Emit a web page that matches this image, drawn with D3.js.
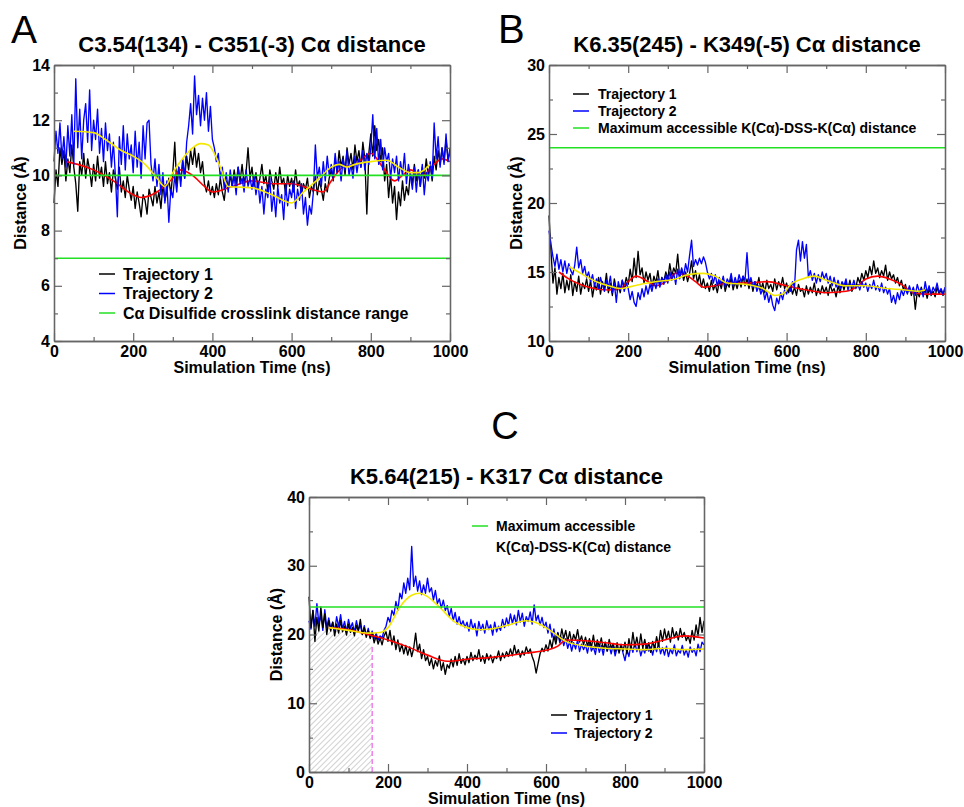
<!DOCTYPE html>
<html><head><meta charset="utf-8">
<script src="https://cdn.jsdelivr.net/npm/d3@7"></script>
<style>
html,body{margin:0;padding:0;background:#fff;}
svg{display:block;font-family:"Liberation Sans",Arial,Helvetica,sans-serif;}
</style></head>
<body>
<svg id="chart" width="964" height="807"></svg>
<script>
// ---------- DATA ----------
const timeStep = 5; // ns between samples of the raw traces
const timeEnd = 1000;

// Panel A: C3.54(134) - C351(-3)
const aTraj1 = [
9.0,10.2,9.6,11.0,10.4,10.9,9.8,10.6,10.1,11.1,10.3,9.7,8.7,10.5,10.0,10.8,9.9,10.6,10.2,9.6,
10.4,9.8,10.7,9.9,10.3,9.6,10.5,9.7,10.1,9.4,10.2,9.9,9.5,10.3,9.4,9.8,9.2,10.0,9.5,9.1,
9.6,8.8,9.4,9.0,8.5,9.3,9.1,8.6,9.5,9.2,8.9,9.6,9.0,9.4,8.8,9.7,9.1,9.4,9.9,9.3,
10.1,11.2,9.6,10.3,9.8,10.5,9.9,10.7,10.2,10.9,10.4,11.0,10.3,10.8,10.1,10.5,9.7,9.4,9.8,9.3,
9.6,9.2,9.7,9.3,9.9,9.4,9.1,9.8,9.5,10.0,9.6,10.2,9.7,10.3,9.8,10.4,9.7,10.1,11.0,9.9,
10.3,9.6,10.1,9.5,9.9,10.4,9.7,10.0,9.4,10.2,9.8,9.5,10.1,9.6,10.3,9.7,9.9,9.3,10.0,9.6,
9.9,9.4,10.2,9.6,9.8,9.3,9.7,9.5,9.9,9.2,9.6,9.4,10.0,9.3,9.8,9.5,9.1,9.7,9.4,9.9,
10.2,9.8,10.6,10.1,10.9,10.3,10.7,10.0,11.0,10.4,10.8,10.2,11.1,10.5,10.9,10.3,11.2,10.6,8.6,10.8,
11.5,10.7,11.8,10.9,11.3,10.5,11.0,9.8,10.4,9.2,10.0,9.0,9.6,8.4,9.4,8.9,9.8,9.1,9.6,9.3,
10.1,9.7,10.4,9.8,10.2,9.6,10.3,9.9,10.6,10.0,10.4,9.8,10.7,10.2,10.9,10.4,11.0,10.5,11.3,10.6,
10.8];
const aTraj2 = [
10.5,11.6,10.8,11.9,10.6,11.4,10.3,11.8,10.7,12.2,10.4,13.5,11.0,12.4,10.6,12.0,12.6,11.2,13.1,10.9,
12.0,11.3,12.4,10.8,11.7,10.5,11.9,10.9,11.5,10.3,11.2,10.0,8.5,11.4,10.4,11.8,10.2,11.5,10.6,11.1,
10.1,11.6,10.3,11.2,9.9,11.8,10.6,11.9,12.0,10.4,9.8,10.6,9.6,10.4,9.3,10.1,9.0,9.8,8.3,9.5,
9.2,10.0,9.4,10.3,9.6,10.6,9.9,11.2,11.8,12.6,11.5,13.6,12.2,12.9,11.8,12.8,12.0,13.0,11.6,12.5,
11.3,11.0,10.5,10.8,9.9,10.3,9.5,10.1,9.4,10.2,9.6,10.0,9.3,10.3,9.7,9.9,9.4,10.2,9.6,9.9,
9.5,10.0,9.3,9.8,9.0,9.6,8.6,9.5,9.2,9.9,8.7,9.4,8.5,9.6,9.0,9.3,8.4,9.7,8.9,9.5,
9.2,9.8,8.8,9.5,9.1,9.7,8.6,9.2,8.2,8.9,8.6,9.4,11.1,9.9,10.3,9.6,10.5,9.8,10.7,10.0,
10.4,9.9,10.8,10.1,10.5,9.8,10.6,10.2,10.9,10.0,10.4,9.9,10.7,10.1,10.6,10.3,10.9,10.2,10.8,10.4,
11.0,12.2,10.6,11.7,10.4,11.3,10.2,11.0,10.5,10.8,9.9,10.6,10.1,10.7,9.8,10.5,10.0,10.8,9.7,10.4,
10.0,9.5,10.3,9.4,10.2,9.6,10.4,9.3,10.1,9.8,10.5,9.9,11.9,10.6,11.4,10.3,11.0,10.4,11.5,10.5,
11.0];
const aSmooth1T = [30,60,100,150,200,220,260,300,320,350,380,400,450,500,550,600,650,680,700,730,760,800,830,860,880,900,930,960,980,1000];
const aSmooth1V = [10.5,10.4,10.2,9.8,9.3,9.2,9.4,9.9,10.2,10.0,9.6,9.4,9.6,9.8,9.7,9.7,9.5,9.4,9.8,10.3,10.4,10.8,10.3,9.8,10.0,10.2,10.0,10.4,10.6,10.5];
const aSmooth2T = [50,100,130,170,200,230,260,280,300,330,350,370,390,420,440,500,550,600,630,670,700,720,740,760,800,840,870,900,920,950];
const aSmooth2V = [11.6,11.55,11.3,10.9,10.7,10.4,9.9,9.6,10.1,10.7,11.0,11.15,11.1,10.3,9.6,9.55,9.3,9.0,9.4,9.9,10.3,10.4,10.3,10.4,10.5,10.55,10.3,10.1,10.1,10.4];
const aRefLines = [10, 7];
const aYTicks = [4, 6, 8, 10, 12, 14];

// Panel B: K6.35(245) - K349(-5)
const bTraj1 = [
19.1,16.5,14.2,15.3,13.4,14.6,13.8,14.9,13.5,14.4,13.7,14.8,13.3,14.3,13.6,14.7,13.4,14.2,13.8,14.5,
13.6,14.4,13.2,14.1,13.7,14.6,13.4,14.3,13.8,14.9,13.5,14.2,13.3,14.5,13.7,14.0,13.5,14.4,13.9,14.6,
14.1,15.2,14.3,16.0,14.6,16.5,14.8,15.3,14.2,15.0,14.4,14.9,13.9,14.7,14.2,15.1,14.0,14.6,14.3,15.0,
14.5,15.6,14.7,15.3,14.9,16.3,14.6,15.2,14.4,15.0,14.3,14.9,15.8,14.5,15.1,14.2,14.8,13.9,14.5,13.8,
14.2,13.6,14.4,13.7,14.1,13.5,14.3,13.8,14.5,13.6,14.2,13.9,14.6,13.7,14.3,13.8,14.4,13.9,14.7,14.0,
14.5,13.8,14.4,13.6,14.3,13.9,14.6,13.7,14.2,13.5,14.4,13.8,14.1,13.6,14.5,13.7,14.3,13.9,14.6,13.8,
14.2,13.5,14.0,13.4,13.9,13.3,14.1,13.6,13.8,13.2,14.0,13.4,13.9,13.5,14.2,13.3,13.8,13.4,14.0,13.5,
13.9,13.3,14.1,13.6,13.8,13.2,14.0,13.5,14.2,13.7,14.3,13.8,14.4,13.6,14.1,13.9,14.6,14.2,14.9,14.4,
15.1,14.6,15.4,14.8,15.8,14.9,15.3,14.6,15.1,14.7,15.5,14.4,15.0,14.5,14.8,14.2,14.6,14.0,14.4,13.7,
14.1,13.5,13.9,13.3,13.8,12.3,13.6,13.2,13.9,13.4,13.7,13.1,13.8,13.3,13.6,13.2,13.9,13.4,13.7,13.3,
13.8];
const bTraj2 = [
18.0,17.0,16.1,15.4,16.3,15.2,15.9,15.0,15.8,14.9,15.6,15.1,14.8,15.5,16.8,15.3,15.9,14.9,15.4,14.6,
15.0,14.3,14.8,14.0,14.5,13.8,14.6,14.1,13.6,14.4,13.9,14.7,13.5,14.2,12.8,14.3,13.7,14.4,13.6,14.2,
13.8,13.0,13.6,12.8,12.5,13.5,13.0,13.8,13.2,14.0,13.4,14.1,13.6,14.3,13.8,14.5,13.9,14.6,14.1,14.8,
14.2,15.0,14.4,14.9,14.1,15.2,14.5,15.3,14.7,15.6,15.0,16.2,17.3,15.4,15.9,15.5,16.0,15.6,16.1,15.7,
15.0,14.5,14.9,14.2,14.8,14.0,14.6,14.1,14.7,13.9,14.5,14.2,14.9,14.0,14.6,14.1,14.8,14.3,14.7,14.4,
16.4,14.2,14.6,13.9,14.3,13.6,14.0,13.4,13.8,13.0,13.6,12.8,13.4,12.6,12.2,13.1,12.7,13.5,13.0,13.7,
13.4,14.0,13.6,14.3,13.9,16.6,17.3,15.8,17.2,16.0,17.0,14.6,15.1,14.4,14.9,14.2,14.8,14.3,15.0,14.5,
14.9,14.2,14.7,14.0,14.6,13.9,14.4,13.8,14.3,14.0,14.5,13.7,14.2,13.9,14.4,13.8,14.1,13.7,14.3,13.9,
14.2,13.6,14.1,13.8,14.4,13.7,14.0,13.6,14.2,13.5,13.9,13.4,13.8,12.8,13.3,12.7,13.5,13.0,13.7,13.3,
13.8,13.4,14.0,13.5,13.9,13.3,14.1,13.6,13.8,13.2,14.3,13.5,14.0,13.4,13.9,13.6,14.2,13.5,13.8,13.4,
13.9];
const bSmooth1T = [25,50,100,150,180,200,220,250,270,300,320,350,370,390,420,450,500,550,600,650,700,750,780,800,830,860,890,920,950,1000];
const bSmooth1V = [15.0,14.5,13.9,13.7,13.8,14.3,14.7,14.3,14.0,14.4,14.9,14.7,14.3,13.9,14.0,14.2,14.2,14.3,14.0,13.7,13.5,13.6,14.0,14.5,14.7,14.5,14.1,13.5,13.4,13.4];
const bSmooth2T = [50,80,120,150,180,200,230,270,320,350,390,420,450,500,540,570,590,610,640,670,700,750,800,850,900,930,950];
const bSmooth2V = [15.4,14.9,14.3,14.0,13.8,13.9,14.1,14.3,14.5,14.8,14.9,14.7,14.2,14.1,13.8,13.3,13.4,14.1,14.5,14.7,14.4,14.0,14.0,13.8,13.7,13.6,13.7];
const bRefLines = [24];
const bYTicks = [10, 15, 20, 25, 30];

// Panel C: K5.64(215) - K317
const cTraj1 = [
25.5,21.0,23.5,19.0,22.5,20.5,24.0,21.0,23.0,20.0,22.0,20.5,21.8,19.8,21.5,20.2,22.0,20.4,21.2,19.9,
21.5,20.3,21.0,19.8,21.3,20.5,22.2,20.0,21.0,19.6,20.5,19.4,20.2,18.8,19.8,18.6,19.5,18.5,19.8,20.4,
19.0,20.6,18.5,19.8,17.8,19.2,17.5,18.6,17.2,18.4,17.0,18.2,16.8,18.0,20.2,17.5,18.6,16.5,17.8,16.2,
16.8,15.5,16.5,15.0,16.2,15.4,16.9,14.8,15.9,14.2,15.6,15.1,16.4,15.3,16.8,15.5,17.2,15.8,16.5,15.6,
16.8,15.9,17.4,16.2,17.0,16.4,17.8,16.1,16.9,15.8,17.2,16.3,17.0,15.9,16.8,16.5,17.6,16.2,17.3,16.6,
17.5,16.8,17.9,16.9,18.4,17.1,17.8,16.7,17.6,17.0,18.2,17.3,17.9,16.8,16.0,14.4,15.8,17.2,18.0,17.5,
18.5,17.6,19.2,18.0,19.8,18.6,20.2,19.1,20.8,19.4,20.6,19.0,20.4,18.8,20.0,19.2,20.7,18.9,19.8,18.5,
19.6,18.3,19.4,18.1,19.9,17.9,19.2,18.2,19.5,17.8,18.9,17.6,19.3,18.0,18.7,17.5,18.8,17.3,18.5,17.6,
18.9,17.2,19.4,17.8,20.3,18.2,19.6,17.9,20.1,18.0,19.3,17.7,18.8,17.4,19.0,17.9,19.7,18.3,20.6,19.0,
20.8,19.3,20.5,18.9,21.0,19.5,20.4,19.2,20.9,19.6,20.3,19.1,19.8,18.7,20.6,19.2,21.4,19.8,22.5,20.3,
22.0];
const cTraj2 = [
22.0,20.8,23.5,21.2,24.5,21.5,22.8,20.6,23.6,21.0,22.4,20.9,21.8,20.5,22.6,21.1,22.9,20.8,21.9,20.4,
22.2,20.9,21.7,20.3,22.0,20.7,21.4,20.0,21.3,19.8,20.9,19.6,20.5,19.4,20.2,19.2,19.8,19.5,20.6,21.2,
22.5,21.8,23.5,22.8,24.8,23.5,26.0,25.2,27.5,26.0,28.2,26.5,32.8,27.0,28.5,26.3,27.8,25.8,27.2,26.0,
28.2,26.2,26.8,25.0,26.4,24.5,25.2,23.8,25.0,23.5,24.2,22.6,23.8,22.0,23.2,21.5,22.6,21.3,22.0,21.0,
21.8,20.5,22.2,20.8,21.6,19.8,21.9,20.6,21.5,20.2,22.0,20.7,21.4,19.9,21.8,20.4,21.2,20.6,22.2,21.0,
22.4,21.3,23.0,21.6,22.8,21.4,23.5,21.8,23.1,21.2,22.6,21.9,23.3,21.5,24.3,22.0,22.8,21.4,22.5,21.0,
21.8,20.2,21.5,19.6,20.8,19.2,20.3,18.8,19.6,18.4,19.4,18.0,19.0,17.6,18.8,17.9,19.2,17.5,18.6,17.8,
18.5,17.3,18.9,17.6,18.2,17.1,18.7,17.4,18.4,17.0,18.8,17.6,18.3,17.2,18.5,16.9,18.1,17.5,18.6,17.3,
16.2,17.8,16.8,18.5,17.4,18.9,17.5,18.3,16.9,18.0,17.3,18.6,17.6,18.2,17.0,18.4,17.5,18.8,17.2,18.1,
17.0,18.3,16.8,17.9,17.2,18.5,16.9,17.7,17.3,18.4,17.0,17.8,16.7,18.2,17.4,17.9,16.9,18.6,17.5,18.9,
18.5];
const cSmooth1T = [50,100,150,200,250,300,350,400,450,500,550,600,630,650,700,750,800,850,900,950,1000];
const cSmooth1V = [21.0,20.7,20.0,19.2,18.2,17.0,16.1,16.4,16.6,16.9,17.3,17.7,18.3,19.2,19.1,18.8,18.5,18.6,19.2,19.8,19.5];
const cSmooth2T = [50,100,150,180,200,230,260,280,300,330,370,400,430,460,500,550,580,620,650,700,750,800,850,900,950,1000];
const cSmooth2V = [21.0,20.6,20.2,20.3,21.0,24.0,25.7,26.0,25.5,24.0,21.8,21.0,20.7,20.8,21.3,22.0,21.6,20.2,19.0,18.3,18.0,17.9,17.8,18.0,17.8,17.9];
const cRefLines = [24];
const cYTicks = [0, 10, 20, 30, 40];
const cHatchT = [0, 40, 80, 120, 160];
const cHatchTop = [20.0, 20.5, 20.6, 19.8, 18.5];
const cCutoffTime = 160;

const xTicks = [0, 200, 400, 600, 800, 1000];
const xMinorTicks = [100, 300, 500, 700, 900];

// ---------- DRAWING ----------
const svg = d3.select("#chart");
const FONT = '"Liberation Sans",Arial,Helvetica,sans-serif';
const COL = {t1:"#000000", t2:"#0000ff", ref:"#22e022", s1:"#ff0000", s2:"#f5e800", axis:"#666666"};

const defs = svg.append("defs");
const pat = defs.append("pattern").attr("id","hatch").attr("patternUnits","userSpaceOnUse")
  .attr("width",4).attr("height",4).attr("patternTransform","rotate(45)");
pat.append("line").attr("x1",0).attr("y1",0).attr("x2",0).attr("y2",4)
  .attr("stroke","#b8b8b8").attr("stroke-width",1.3);

function panel(o){
  const x = d3.scaleLinear().domain([0,1000]).range([o.x0,o.x1]);
  const y = d3.scaleLinear().domain(o.yDomain).range([o.y1,o.y0]);
  const g = svg.append("g");
  const times = d3.range(0, timeEnd + 1, timeStep);

  g.append("text").attr("x",o.letterX).attr("y",o.letterY).attr("font-size",o.letterSize)
    .attr("text-anchor",o.letterAnchor||"start").attr("font-family",FONT).text(o.letter);
  g.append("text").attr("x",(o.x0+o.x1)/2).attr("y",o.titleY).attr("font-size",22)
    .attr("font-weight","bold").attr("text-anchor","middle").attr("font-family",FONT).text(o.title);

  const plot = g.append("g");
  if (o.hatch){
    plot.append("path").datum(o.hatch.t.map((t,i)=>[t,o.hatch.v[i]]))
      .attr("fill","url(#hatch)")
      .attr("d", d3.area().x(d=>x(d[0])).y0(y(o.yDomain[0])).y1(d=>y(d[1])).curve(d3.curveMonotoneX));
  }
  const line = d3.line().x(d=>x(d[0])).y(d=>y(d[1]));
  const smooth = d3.line().x(d=>x(d[0])).y(d=>y(d[1])).curve(d3.curveMonotoneX);
  const draws = {
    t1: ()=>plot.append("path").datum(times.map((t,i)=>[t,o.traj1[i]])).attr("fill","none")
      .attr("stroke",COL.t1).attr("stroke-width",1.35).attr("stroke-linejoin","round").attr("d",line),
    t2: ()=>plot.append("path").datum(times.map((t,i)=>[t,o.traj2[i]])).attr("fill","none")
      .attr("stroke",COL.t2).attr("stroke-width",1.35).attr("stroke-linejoin","round").attr("d",line),
    s1: ()=>plot.append("path").datum(o.s1T.map((t,i)=>[t,o.s1V[i]])).attr("fill","none")
      .attr("stroke",COL.s1).attr("stroke-width",1.6).attr("d",smooth),
    s2: ()=>plot.append("path").datum(o.s2T.map((t,i)=>[t,o.s2V[i]])).attr("fill","none")
      .attr("stroke",COL.s2).attr("stroke-width",1.6).attr("d",smooth)
  };
  o.order.forEach(k=>draws[k]());
  o.refs.forEach(v=>{
    plot.append("line").attr("x1",x(0)).attr("x2",x(1000)).attr("y1",y(v)).attr("y2",y(v))
      .attr("stroke",COL.ref).attr("stroke-width",1.6);
  });
  if (o.cutoff!=null){
    plot.append("line").attr("x1",x(o.cutoff)).attr("x2",x(o.cutoff))
      .attr("y1",y(o.yDomain[0])).attr("y2",y(o.hatch.v[o.hatch.v.length-1]))
      .attr("stroke","#ee77ee").attr("stroke-width",1.4).attr("stroke-dasharray","5,3");
  }

  // axes
  const styleAx = sel => {
    sel.selectAll(".domain").attr("stroke",COL.axis).attr("stroke-width",1.3);
    sel.selectAll(".tick line").attr("stroke",COL.axis).attr("stroke-width",1.2);
    sel.selectAll("text").attr("font-family",FONT).attr("font-size",16).attr("font-weight","bold").attr("fill","#000");
  };
  const yMinor = [];
  for (let i=0;i<o.yTicks.length-1;i++) yMinor.push((o.yTicks[i]+o.yTicks[i+1])/2);

  g.append("g").attr("transform",`translate(0,${o.y1})`)
    .call(d3.axisBottom(x).tickValues(xTicks).tickSize(-8).tickSizeOuter(0).tickPadding(5).tickFormat(d3.format("d"))).call(styleAx);
  g.append("g").attr("transform",`translate(0,${o.y1})`)
    .call(d3.axisBottom(x).tickValues(xMinorTicks).tickSize(-4).tickSizeOuter(0).tickFormat("")).call(styleAx);
  g.append("g").attr("transform",`translate(0,${o.y0})`)
    .call(d3.axisTop(x).tickValues(xTicks).tickSize(-8).tickSizeOuter(0).tickFormat("")).call(styleAx);
  g.append("g").attr("transform",`translate(0,${o.y0})`)
    .call(d3.axisTop(x).tickValues(xMinorTicks).tickSize(-4).tickSizeOuter(0).tickFormat("")).call(styleAx);
  g.append("g").attr("transform",`translate(${o.x0},0)`)
    .call(d3.axisLeft(y).tickValues(o.yTicks).tickSize(-8).tickSizeOuter(0).tickPadding(4).tickFormat(d3.format("d"))).call(styleAx);
  g.append("g").attr("transform",`translate(${o.x0},0)`)
    .call(d3.axisLeft(y).tickValues(yMinor).tickSize(-4).tickSizeOuter(0).tickFormat("")).call(styleAx);
  g.append("g").attr("transform",`translate(${o.x1},0)`)
    .call(d3.axisRight(y).tickValues(o.yTicks).tickSize(-8).tickSizeOuter(0).tickFormat("")).call(styleAx);
  g.append("g").attr("transform",`translate(${o.x1},0)`)
    .call(d3.axisRight(y).tickValues(yMinor).tickSize(-4).tickSizeOuter(0).tickFormat("")).call(styleAx);

  g.append("text").attr("x",(o.x0+o.x1)/2).attr("y",o.xLabelY).attr("text-anchor","middle")
    .attr("font-family",FONT).attr("font-size",16).attr("font-weight","bold").text("Simulation Time (ns)");
  g.append("text").attr("transform",`translate(${o.yLabelX},${(o.y0+o.y1)/2}) rotate(-90)`)
    .attr("text-anchor","middle").attr("font-family",FONT).attr("font-size",16).attr("font-weight","bold").text("Distance (Å)");

  // legend
  o.legend.forEach(it=>{
    if (it.color) g.append("line").attr("x1",it.lx).attr("x2",it.lx+16).attr("y1",it.y).attr("y2",it.y)
      .attr("stroke",it.color).attr("stroke-width",1.5);
    g.append("text").attr("x",it.tx).attr("y",it.y).attr("dy","0.35em").attr("font-family",FONT)
      .attr("font-size",o.legendSize).attr("font-weight","bold").text(it.text);
  });
}

panel({x0:54,x1:450,y0:65,y1:341,yDomain:[4,14],yTicks:aYTicks,
  traj1:aTraj1,traj2:aTraj2,s1T:aSmooth1T,s1V:aSmooth1V,s2T:aSmooth2T,s2V:aSmooth2V,refs:aRefLines,
  order:["t1","s1","t2","s2"],
  letter:"A",letterX:11,letterY:43,letterSize:39,title:"C3.54(134) - C351(-3) Cα distance",titleY:52,
  xLabelY:373,yLabelX:26,legendSize:16,
  legend:[{color:COL.t1,lx:99,tx:123,y:274,text:"Trajectory 1"},
          {color:COL.t2,lx:99,tx:123,y:293.5,text:"Trajectory 2"},
          {color:COL.ref,lx:99,tx:123,y:313,text:"Cα Disulfide crosslink distance range"}]});

panel({x0:549,x1:945,y0:65,y1:341,yDomain:[10,30],yTicks:bYTicks,
  traj1:bTraj1,traj2:bTraj2,s1T:bSmooth1T,s1V:bSmooth1V,s2T:bSmooth2T,s2V:bSmooth2V,refs:bRefLines,
  order:["t1","s1","t2","s2"],
  letter:"B",letterX:498,letterY:43,letterSize:40,title:"K6.35(245) - K349(-5) Cα distance",titleY:52,
  xLabelY:373,yLabelX:522,legendSize:14,
  legend:[{color:COL.t1,lx:573,tx:598,y:94,text:"Trajectory 1"},
          {color:COL.t2,lx:573,tx:598,y:111,text:"Trajectory 2"},
          {color:COL.ref,lx:573,tx:598,y:128,text:"Maximum accessible K(Cα)-DSS-K(Cα) distance"}]});

panel({x0:309,x1:704,y0:497,y1:772,yDomain:[0,40],yTicks:cYTicks,
  traj1:cTraj1,traj2:cTraj2,s1T:cSmooth1T,s1V:cSmooth1V,s2T:cSmooth2T,s2V:cSmooth2V,refs:cRefLines,
  order:["t2","t1","s1","s2"],hatch:{t:cHatchT,v:cHatchTop},cutoff:cCutoffTime,
  letter:"C",letterX:505,letterY:439,letterSize:38,letterAnchor:"middle",title:"K5.64(215) - K317 Cα distance",titleY:484,
  xLabelY:804,yLabelX:282,legendSize:14,
  legend:[{color:COL.ref,lx:472,tx:496,y:526,text:"Maximum accessible"},
          {color:null,lx:472,tx:496,y:547,text:"K(Cα)-DSS-K(Cα) distance"},
          {color:COL.t1,lx:551,tx:574,y:715,text:"Trajectory 1"},
          {color:COL.t2,lx:551,tx:574,y:733,text:"Trajectory 2"}]});
</script>
</body></html>
